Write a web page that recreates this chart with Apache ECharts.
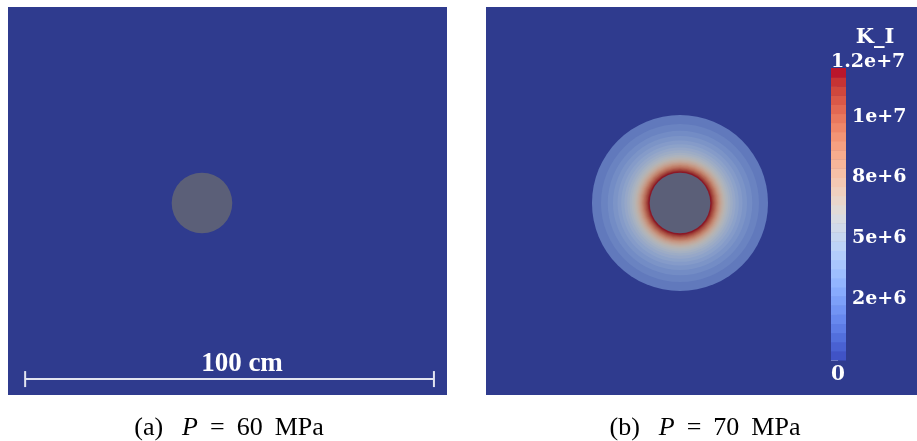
<!DOCTYPE html>
<html><head><meta charset="utf-8">
<script src="https://cdn.jsdelivr.net/npm/echarts@6/dist/echarts.min.js"></script>
<style>html,body{margin:0;padding:0;background:#fff}#c{width:917px;height:441px}</style>
</head><body><div id="c"></div>
<script>
// ---------------- data (cm, Pa·m^0.5) ----------------
const holeCenter = [0, 0];
const holeRadius = 7.42;
// outer radius (cm) of each contour band around the hole, right panel (P = 70 MPa)
const ringRadius = [21.55, 19.34, 17.70, 16.41, 15.30, 14.40, 13.61, 12.93, 12.34, 11.85,
                    11.43, 11.07, 10.75, 10.46, 10.19, 9.94, 9.72, 9.50, 9.30, 9.11,
                    8.91, 8.72, 8.52, 8.33, 8.13, 7.93, 7.74];
// K_I value of each band
const ringK = [2.06e6, 2.44e6, 2.81e6, 3.19e6, 3.56e6, 3.94e6, 4.31e6, 4.69e6, 5.06e6, 5.44e6,
               5.81e6, 6.19e6, 6.56e6, 6.94e6, 7.31e6, 7.69e6, 8.06e6, 8.44e6, 8.81e6, 9.19e6,
               9.56e6, 9.94e6, 1.031e7, 1.069e7, 1.106e7, 1.144e7, 1.181e7];
const scaleBar = [[-43.3, 56.8, -43.1]];      // x0, x1, y
const scaleBarLabel = '100 cm';
const scaleBarLabelPos = [9.8, -39.3];
const cbTitle = 'K_I';
const cbMin = 0, cbMax = 1.2e7, cbBands = 32;
const cbTickValues = [2.5e6, 5e6, 7.5e6, 1e7];
const cbTickLabels = ['2e+6', '5e+6', '8e+6', '1e+7'];
const cbMaxLabel = '1.2e+7', cbMinLabel = '0';
const captionA = ['(a)', 'P', '=', '60', 'MPa'];
const captionB = ['(b)', 'P', '=', '70', 'MPa'];

// ---------------- style ----------------
const coolWarm = [[59,76,192],[68,90,204],[77,104,215],[87,117,225],[98,130,234],[108,142,241],
 [119,154,247],[130,165,251],[141,176,254],[152,185,255],[163,194,255],[174,201,253],[184,208,249],
 [194,213,244],[204,217,238],[213,219,230],[221,221,221],[229,216,209],[236,211,197],[241,204,185],
 [245,196,173],[247,187,160],[247,177,148],[247,166,135],[244,154,123],[241,141,111],[236,127,99],
 [229,112,88],[222,96,77],[213,80,66],[203,62,56],[192,40,47],[180,4,38]];
const BG = '#2f3b8e', HOLE = '#5b5f78', SERIF = 'DejaVu Serif';
function bandColor(i, shade, desat) {
  const a = coolWarm[i], b = coolWarm[i + 1];
  let c = a.map((v, k) => (v + b[k]) / 2);
  const lum = 0.3 * c[0] + 0.59 * c[1] + 0.11 * c[2];
  c = c.map(v => (v * (1 - desat) + lum * desat) * shade);
  return 'rgb(' + c.map(Math.round).join(',') + ')';
}
function kBand(k) { return Math.max(0, Math.min(cbBands - 1, Math.floor((k - cbMin) / (cbMax - cbMin) * cbBands))); }

const chart = echarts.init(document.getElementById('c'));
const hidden = { show: false };
function mainAxis(min, max, gi) {
  return { type: 'value', min, max, gridIndex: gi, show: false, splitLine: hidden };
}
function holeSeries(xi) {
  return { type: 'custom', xAxisIndex: xi, yAxisIndex: xi, clip: true, silent: true,
    data: [[holeCenter[0], holeCenter[1], holeRadius]],
    renderItem: (p, api) => {
      const c = api.coord([api.value(0), api.value(1)]);
      const r = api.size([api.value(2), 0])[0];
      return { type: 'circle', shape: { cx: c[0], cy: c[1], r }, style: { fill: HOLE } };
    } };
}
const cbStep = (cbMax - cbMin) / cbBands;
const cbData = coolWarm.slice(0, cbBands).map((_, i) => [cbMin + i * cbStep, cbMin + (i + 1) * cbStep, i]);
function caption(parts) {
  return '{n|' + parts[0] + '}{s3|}{i|' + parts[1] + '}{s2|}{n|' + parts[2] + '}{s2|}{n|' + parts[3] + '}{s2|}{n|' + parts[4] + '}';
}
const capRich = {
  n: { fontFamily: 'Liberation Serif', fontSize: 26, color: '#000' },
  i: { fontFamily: 'Liberation Serif', fontSize: 26, fontStyle: 'italic', color: '#000' },
  s2: { width: 12 }, s3: { width: 19 }
};

const option = {
  animation: false,
  backgroundColor: '#ffffff',
  grid: [
    { left: 8, top: 7, width: 439, height: 388, show: true, backgroundColor: BG, borderWidth: 0 },
    { left: 486, top: 7, width: 431, height: 388, show: true, backgroundColor: BG, borderWidth: 0 },
    { left: 831, top: 68, width: 15, height: 292, show: false }
  ],
  xAxis: [ mainAxis(-47.5, 60, 0), mainAxis(-47.5, 58.03, 1),
    { type: 'value', min: 0, max: 1, gridIndex: 2, show: false } ],
  yAxis: [ mainAxis(-47, 48, 0), mainAxis(-47, 48, 1),
    { type: 'value', min: cbMin, max: cbMax, interval: 2.5e6, gridIndex: 2, position: 'right',
      axisLine: { show: false }, splitLine: { show: false },
      axisTick: { show: true, length: 7, lineStyle: { color: '#9ea3c4', width: 1 } },
      minorTick: { show: true, splitNumber: 8, length: 6, lineStyle: { color: '#8a90b8', width: 1 } },
      axisLabel: { color: '#ffffff', fontFamily: SERIF, fontWeight: 'bold', fontSize: 19, margin: 6,
        showMinLabel: false, showMaxLabel: false,
        formatter: v => { const i = cbTickValues.indexOf(v); return i >= 0 ? cbTickLabels[i] : ''; } } }
  ],
  series: [
    holeSeries(0),
    { type: 'custom', xAxisIndex: 0, yAxisIndex: 0, clip: true, silent: true, data: scaleBar,
      renderItem: (p, api) => {
        const a = api.coord([api.value(0), api.value(2)]);
        const b = api.coord([api.value(1), api.value(2)]);
        const t = api.coord(scaleBarLabelPos);
        const ls = { stroke: '#e2e4f0', lineWidth: 2 };
        return { type: 'group', children: [
          { type: 'line', shape: { x1: a[0], y1: a[1], x2: b[0], y2: b[1] }, style: ls },
          { type: 'line', shape: { x1: a[0], y1: a[1] - 8, x2: a[0], y2: a[1] + 8 }, style: ls },
          { type: 'line', shape: { x1: b[0], y1: b[1] - 8, x2: b[0], y2: b[1] + 8 }, style: ls },
          { type: 'text', x: t[0], y: t[1], style: { text: scaleBarLabel, fill: '#ffffff',
            font: 'bold 27px "Liberation Serif"', align: 'center', verticalAlign: 'middle' } }
        ] };
      } },
    { type: 'custom', xAxisIndex: 1, yAxisIndex: 1, clip: true, silent: true,
      data: ringRadius.map((r, i) => [r, ringK[i]]),
      renderItem: (p, api) => {
        const c = api.coord(holeCenter);
        const r = api.size([api.value(0), 0])[0];
        return { type: 'circle', shape: { cx: c[0], cy: c[1], r },
          style: { fill: bandColor(kBand(api.value(1)), 0.82, 0.15) } };
      } },
    holeSeries(1),
    { type: 'custom', xAxisIndex: 2, yAxisIndex: 2, silent: true, data: cbData,
      renderItem: (p, api) => {
        const a = api.coord([0, api.value(1)]);
        const b = api.coord([1, api.value(0)]);
        return { type: 'rect', shape: { x: a[0], y: a[1], width: b[0] - a[0], height: b[1] - a[1] + 0.5 },
          style: { fill: bandColor(api.value(2), 1, 0) } };
      } }
  ],
  graphic: [
    { type: 'text', x: 875, y: 38, style: { text: cbTitle, fill: '#fff', font: 'bold 21px "DejaVu Serif"',
      align: 'center', verticalAlign: 'middle' } },
    { type: 'text', x: 831, y: 62, style: { text: cbMaxLabel, fill: '#fff', font: 'bold 19px "DejaVu Serif"',
      align: 'left', verticalAlign: 'middle' } },
    { type: 'text', x: 838, y: 375, style: { text: cbMinLabel, fill: '#fff', font: 'bold 20px "DejaVu Serif"',
      align: 'center', verticalAlign: 'middle' } },
    { type: 'text', x: 229, y: 428, style: { text: caption(captionA), rich: capRich,
      font: '26px "Liberation Serif"', fill: '#000', align: 'center', verticalAlign: 'middle' } },
    { type: 'text', x: 705, y: 428, style: { text: caption(captionB), rich: capRich,
      font: '26px "Liberation Serif"', fill: '#000', align: 'center', verticalAlign: 'middle' } }
  ]
};
chart.setOption(option);
</script></body></html>
